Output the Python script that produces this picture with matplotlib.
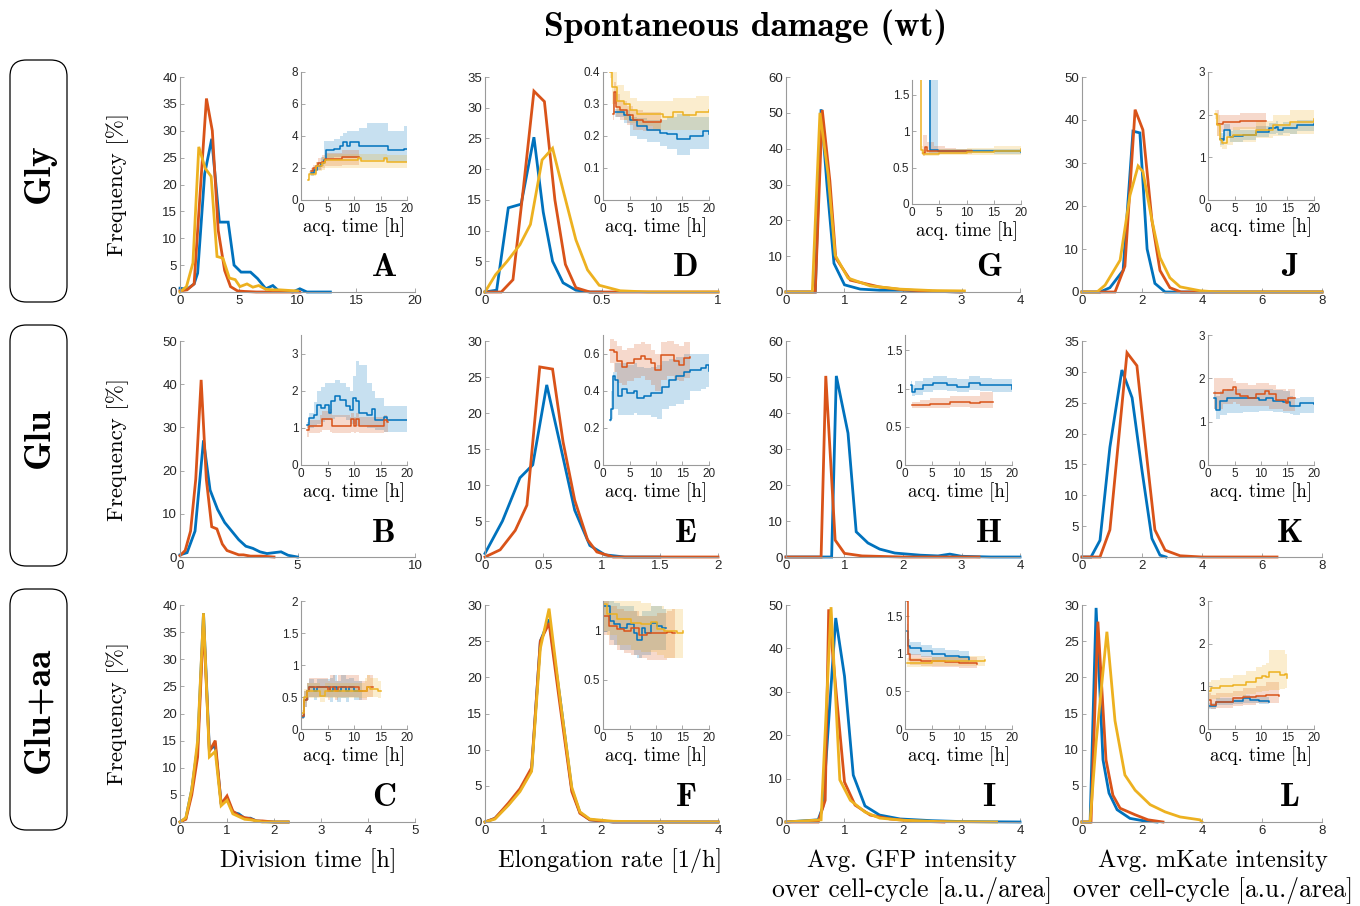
import matplotlib
matplotlib.use('Agg')
import matplotlib.pyplot as plt
from matplotlib.patches import FancyBboxPatch
from matplotlib.ticker import FuncFormatter

# ---------------- data: main histograms ----------------
A_b_x = [0, 0.6, 1.2, 1.5, 2.1, 2.7, 3.35, 4.1, 4.6, 5.2, 6.0, 6.6, 7.3, 7.9, 8.4, 9.0, 9.6, 10.2, 10.8, 12.8]
A_b_y = [0.7, 0.5, 1.5, 3.5, 22, 28.5, 13, 13, 5, 3.7, 3.7, 2.5, 0.6, 1.2, 0.2, 0.2, 0, 0.6, 0, 0]
A_r_x = [0, 0.6, 1.2, 1.7, 2.25, 2.75, 3.25, 3.8, 4.3, 4.9, 5.5, 6.5, 8, 10.2]
A_r_y = [0.2, 0.4, 1.5, 18, 36, 30, 11.5, 4, 1, 0.2, 0.1, 0, 0, 0]
A_y_x = [0, 0.55, 1.1, 1.6, 2.15, 2.65, 3.15, 3.65, 4.2, 4.7, 5.1, 5.7, 6.2, 6.7, 7.3, 7.9, 8.5, 9.2, 10.0]
A_y_y = [0, 1, 5.4, 27, 23, 21.5, 6.6, 6.3, 2.6, 2.3, 1, 1.5, 0.9, 1.2, 0.5, 0.4, 0.4, 0.3, 0.2]

D_b_x = [0, 0.05, 0.1, 0.155, 0.21, 0.25, 0.29, 0.335, 0.39, 0.45, 0.5]
D_b_y = [0, 0.3, 13.7, 14.3, 25.2, 13, 5, 1.5, 0.3, 0, 0]
D_r_x = [0, 0.07, 0.12, 0.165, 0.21, 0.255, 0.3, 0.345, 0.39, 0.45, 0.6, 1.0]
D_r_y = [0, 0, 2, 17, 32.7, 31, 15, 4.5, 0.7, 0, 0, 0]
D_y_x = [0, 0.045, 0.095, 0.15, 0.195, 0.245, 0.29, 0.335, 0.39, 0.44, 0.49, 0.58, 0.7, 1.0]
D_y_y = [0, 2.8, 5, 7.7, 11, 21.5, 23.4, 16.6, 8.5, 3.6, 1.1, 0.2, 0, 0]

G_b_x = [0, 0.5, 0.6, 0.7, 0.82, 1.0, 1.27, 1.6, 2.0, 2.5, 3.0]
G_b_y = [0, 0, 51, 30, 8, 2, 0.8, 0.5, 0.5, 0.2, 0]
G_r_x = [0, 0.5, 0.62, 0.75, 0.85, 1.1, 1.6, 2.0, 2.5, 3.0]
G_r_y = [0, 0, 50.8, 31, 9.5, 3.3, 1.4, 0.6, 0.2, 0]
G_y_x = [0, 0.45, 0.58, 0.72, 0.84, 1.06, 1.44, 1.95, 2.5, 3.05]
G_y_y = [0, 0, 50, 32.7, 10.3, 3.9, 1.7, 0.8, 0.4, 0.3]

J_b_x = [0, 0.6, 0.93, 1.37, 1.7, 1.93, 2.17, 2.43, 2.77, 4, 6, 8]
J_b_y = [0, 0, 1, 5, 37.4, 37, 10, 2, 0, 0, 0, 0]
J_r_x = [0, 1.1, 1.43, 1.77, 2.03, 2.33, 2.6, 2.93, 3.3, 8]
J_r_y = [0, 0, 6, 42.4, 37.7, 16.7, 5, 1, 0, 0]
J_y_x = [0, 0.5, 0.77, 1.27, 1.6, 1.87, 2.03, 2.33, 2.6, 2.93, 3.27, 3.93, 4.5, 8]
J_y_y = [0, 0, 1.6, 7.4, 22.5, 29.3, 28, 16.7, 8, 3.3, 1.2, 0.3, 0, 0]

B_b_x = [0, 0.3, 0.64, 1.0, 1.28, 1.6, 1.9, 2.2, 2.5, 2.8, 3.1, 3.4, 3.7, 4.0, 4.3, 4.6, 5.0]
B_b_y = [0.5, 1, 6, 27, 15.5, 11, 8, 6, 4, 2.5, 2, 1.2, 0.8, 1, 1.2, 0.4, 0]
B_r_x = [0, 0.22, 0.45, 0.67, 0.9, 1.12, 1.35, 1.57, 1.8, 2.0, 2.25, 2.5, 2.7, 3.0, 3.5, 4.0]
B_r_y = [0.3, 1.5, 6, 18, 41, 18, 7, 6.5, 3, 1.5, 1, 0.5, 0.5, 0.2, 0.2, 0]

E_b_x = [0, 0.15, 0.3, 0.41, 0.53, 0.64, 0.77, 0.9, 1.03, 1.2, 1.5]
E_b_y = [0.5, 5, 11, 12.8, 23.9, 16, 6.5, 1.6, 0.3, 0, 0]
E_r_x = [0, 0.13, 0.26, 0.36, 0.47, 0.58, 0.67, 0.77, 0.88, 0.96, 1.1, 2.0]
E_r_y = [0, 1, 3.7, 7.2, 26.4, 26.1, 16, 7.9, 2.4, 0.7, 0, 0]

H_b_x = [0, 0.78, 0.86, 1.06, 1.2, 1.4, 1.6, 1.86, 2.3, 2.6, 2.8, 3.0, 3.5, 4.0]
H_b_y = [0, 0, 50.3, 34.4, 7, 3.9, 2.2, 1.1, 0.5, 0.3, 0.8, 0.2, 0, 0]
H_r_x = [0, 0.6, 0.68, 0.84, 1.0, 1.3, 2.0, 3.3]
H_r_y = [0, 0, 50.3, 4.7, 1, 0.3, 0, 0]

K_b_x = [0, 0.3, 0.6, 0.93, 1.33, 1.67, 2.0, 2.33, 2.6, 2.8]
K_b_y = [0, 0, 2.7, 17.8, 30.3, 25.8, 14, 3, 0.3, 0]
K_r_x = [0, 0.6, 0.93, 1.5, 1.83, 2.17, 2.43, 2.77, 3.27, 4, 6.5]
K_r_y = [0, 0, 4.4, 33.1, 31, 15.7, 4.4, 1.1, 0.2, 0, 0]

C_x = [0, 0.125, 0.25, 0.375, 0.5, 0.625, 0.75, 0.875, 1.0, 1.125, 1.25, 1.375, 1.5, 1.625, 1.75, 2.0, 2.3]
C_b_y = [0, 0.7, 6, 14, 38.5, 13.3, 14.1, 3.5, 4.4, 1.8, 1.5, 0.7, 0.7, 0.2, 0.1, 0, 0]
C_r_y = [0, 0.5, 5, 12, 37, 13, 15, 3.3, 4.8, 2, 1.2, 0.8, 0.6, 0.2, 0.2, 0, 0]
C_y_y = [0, 0.8, 6, 15, 38.5, 12, 13, 3, 4, 1.5, 1, 0.5, 0.4, 0.2, 0, 0, 0]

F_x = [0, 0.17, 0.4, 0.6, 0.8, 0.95, 1.1, 1.29, 1.49, 1.63, 1.8, 2.2, 3.0, 4.0]
F_b_y = [0, 0.5, 2.4, 4.4, 7.2, 25, 28, 17, 4.5, 1.3, 0.3, 0, 0, 0]
F_r_y = [0, 0.5, 2.6, 4.6, 7.5, 25, 27.5, 16, 4.2, 1.2, 0.3, 0, 0, 0]
F_y_y = [0, 0.4, 2.3, 4.2, 7.0, 24, 29.5, 17, 4.8, 1.4, 0.4, 0.1, 0, 0]

I_b_x = [0, 0.55, 0.63, 0.85, 1.0, 1.15, 1.35, 1.6, 1.95, 2.5, 3, 4]
I_b_y = [0, 0.5, 3.5, 47, 33.6, 10.8, 3.7, 1.6, 0.7, 0.3, 0.1, 0]
I_r_x = [0, 0.55, 0.67, 0.73, 0.87, 1.0, 1.18, 1.44, 1.78, 2.2, 2.7]
I_r_y = [0, 0, 5, 49, 28, 9.2, 3.9, 1.6, 0.7, 0.2, 0]
I_y_x = [0, 0.6, 0.77, 0.92, 1.1, 1.35, 1.6, 2.0, 2.6, 3.6]
I_y_y = [0, 0.5, 49.5, 9.7, 5, 2.3, 0.9, 0.4, 0.1, 0]

L_b_x = [0, 0.27, 0.47, 0.7, 0.9, 1.17, 1.6, 2.0, 2.5]
L_b_y = [0, 0, 29.6, 8.6, 4, 1.7, 0.5, 0.2, 0]
L_r_x = [0, 0.3, 0.53, 0.8, 1.03, 1.27, 1.77, 2.2, 2.7]
L_r_y = [0, 0, 27.7, 8.6, 3.7, 1.9, 1, 0.3, 0]
L_y_x = [0, 0.27, 0.47, 0.83, 1.1, 1.43, 1.77, 2.27, 2.77, 3.27, 3.93, 4.0]
L_y_y = [0, 0, 11, 26.3, 14, 6.5, 4.4, 2.4, 1.4, 0.7, 0.3, 0]

# ---------------- data: insets (time, mean, low, high) ----------------
Ai_b_t = [1.8, 2.5, 3.0, 3.7, 4.3, 4.8, 6.2, 7.4, 8.0, 8.7, 9.3, 10.9, 12.5, 16.5, 19.4, 20]
Ai_b_m = [1.7, 1.9, 2.1, 2.3, 2.5, 3.1, 3.2, 3.4, 3.6, 3.4, 3.6, 3.4, 3.4, 3.1, 3.2, 3.2]
Ai_b_lo = [1.5, 1.7, 1.9, 2.1, 2.3, 2.6, 2.7, 2.7, 2.6, 2.6, 2.6, 2.5, 2.5, 2.4, 2.4, 2.4]
Ai_b_hi = [1.9, 2.1, 2.4, 2.7, 3.7, 3.7, 3.8, 4.0, 4.2, 4.3, 4.3, 4.5, 4.8, 4.3, 4.6, 4.5]
Ai_r_t = [1.8, 2.2, 2.8, 3.3, 4.0, 4.6, 7.7, 11]
Ai_r_m = [1.8, 2.0, 2.1, 2.3, 2.4, 2.55, 2.7, 2.7]
Ai_r_lo = [1.6, 1.7, 1.8, 1.9, 2.0, 2.1, 2.2, 2.2]
Ai_r_hi = [2.0, 2.2, 2.4, 2.6, 2.8, 2.95, 3.1, 3.1]
Ai_y_t = [1.25, 1.6, 2.4, 2.9, 4.0, 4.6, 10.8, 11.3, 15.6, 16.2, 20]
Ai_y_m = [1.25, 1.6, 1.65, 2.1, 2.3, 2.5, 2.6, 2.45, 2.6, 2.4, 2.4]
Ai_y_lo = [1.2, 1.5, 1.5, 1.8, 1.9, 2.0, 2.0, 2.0, 2.0, 2.0, 2.0]
Ai_y_hi = [1.4, 1.8, 1.9, 2.4, 2.7, 2.9, 2.9, 2.9, 2.9, 2.8, 2.8]

Di_y_t = [1.4, 1.7, 2.6, 3.9, 5.1, 6.4, 9.5, 11.4, 13.3, 15.1, 17.6, 20]
Di_y_m = [0.4, 0.353, 0.31, 0.3, 0.28, 0.27, 0.27, 0.26, 0.275, 0.265, 0.275, 0.28]
Di_y_lo = [0.38, 0.3, 0.27, 0.25, 0.24, 0.23, 0.22, 0.22, 0.22, 0.22, 0.22, 0.22]
Di_y_hi = [0.42, 0.4, 0.36, 0.34, 0.32, 0.31, 0.31, 0.31, 0.32, 0.32, 0.325, 0.325]
Di_r_t = [1.8, 2.1, 2.5, 3.25, 4.5, 5.75, 7.6, 11]
Di_r_m = [0.27, 0.338, 0.29, 0.28, 0.265, 0.25, 0.245, 0.25]
Di_r_lo = [0.25, 0.3, 0.26, 0.25, 0.235, 0.22, 0.215, 0.22]
Di_r_hi = [0.3, 0.37, 0.33, 0.31, 0.295, 0.28, 0.275, 0.28]
Di_b_t = [2.3, 3.9, 5.1, 6.4, 8.25, 10.75, 12, 13.9, 16.4, 18.9, 20]
Di_b_m = [0.275, 0.265, 0.25, 0.23, 0.22, 0.21, 0.205, 0.19, 0.2, 0.215, 0.205]
Di_b_lo = [0.26, 0.24, 0.2, 0.19, 0.18, 0.17, 0.16, 0.14, 0.16, 0.16, 0.16]
Di_b_hi = [0.285, 0.28, 0.26, 0.255, 0.25, 0.25, 0.26, 0.27, 0.26, 0.26, 0.26]

Gi_y_t = [1.4, 1.6, 2.1, 5, 10, 15, 20]
Gi_y_m = [1.8, 0.74, 0.69, 0.70, 0.71, 0.72, 0.76]
Gi_y_lo = [1.8, 0.68, 0.66, 0.67, 0.67, 0.67, 0.68]
Gi_y_hi = [1.8, 0.8, 0.74, 0.76, 0.77, 0.8, 0.85]
Gi_b_t = [3.2, 3.35, 4.8, 10, 15, 20]
Gi_b_m = [1.8, 0.74, 0.73, 0.72, 0.72, 0.71]
Gi_b_lo = [0.7, 0.7, 0.7, 0.7, 0.69, 0.69]
Gi_b_hi = [1.8, 1.8, 0.76, 0.75, 0.75, 0.74]
Gi_r_t = [2.0, 2.3, 2.7, 4, 6, 8, 11]
Gi_r_m = [0.7, 0.78, 0.73, 0.73, 0.72, 0.72, 0.72]
Gi_r_lo = [0.66, 0.68, 0.68, 0.69, 0.69, 0.69, 0.69]
Gi_r_hi = [0.95, 0.95, 0.85, 0.8, 0.77, 0.76, 0.76]

Ji_y_t = [1.26, 1.7, 2.2, 2.7, 3.5, 4.7, 9.1, 12.3, 15.4, 20]
Ji_y_m = [2.01, 1.75, 1.4, 1.34, 1.48, 1.52, 1.64, 1.75, 1.83, 1.91]
Ji_y_lo = [1.9, 1.5, 1.25, 1.2, 1.3, 1.35, 1.45, 1.5, 1.55, 1.6]
Ji_y_hi = [2.1, 2.0, 1.6, 1.5, 1.65, 1.7, 1.85, 2.0, 2.1, 2.2]
Ji_b_t = [2.2, 2.8, 3.1, 4.0, 4.2, 4.7, 6.6, 9.1, 11.6, 12.9, 13.2, 14.2, 15.4, 16.7, 20]
Ji_b_m = [1.44, 1.4, 1.64, 1.64, 1.48, 1.5, 1.52, 1.6, 1.68, 1.71, 1.64, 1.69, 1.68, 1.75, 1.79]
Ji_b_lo = [1.3, 1.28, 1.5, 1.5, 1.36, 1.37, 1.4, 1.47, 1.55, 1.58, 1.52, 1.56, 1.55, 1.62, 1.66]
Ji_b_hi = [1.58, 1.52, 1.78, 1.78, 1.62, 1.63, 1.65, 1.73, 1.81, 1.84, 1.77, 1.82, 1.81, 1.88, 1.92]
Ji_r_t = [1.7, 2.0, 2.8, 6, 11]
Ji_r_m = [1.79, 1.78, 1.83, 1.85, 1.85]
Ji_r_lo = [1.5, 1.6, 1.65, 1.67, 1.67]
Ji_r_hi = [2.1, 2.0, 2.0, 2.03, 2.03]

Bi_b_t = [1.2, 1.6, 2.4, 3.1, 3.7, 4.6, 5.2, 5.7, 6.5, 7.4, 8.4, 9.3, 9.8, 10.3, 10.9, 12.5, 13.4, 14.0, 15.6, 16.2, 20]
Bi_b_m = [1.08, 1.26, 1.35, 1.62, 1.53, 1.62, 1.40, 1.71, 1.85, 1.76, 1.58, 1.49, 1.80, 1.71, 1.40, 1.35, 1.50, 1.22, 1.30, 1.22, 1.22]
Bi_b_lo = [1.0, 1.0, 1.05, 1.1, 1.15, 1.2, 1.2, 1.25, 1.3, 1.3, 1.2, 1.1, 1.1, 1.05, 1.05, 1.0, 1.0, 0.95, 0.9, 0.9, 0.9]
Bi_b_hi = [1.15, 1.4, 1.7, 2.0, 2.1, 2.2, 2.2, 2.2, 2.3, 2.2, 2.1, 2.0, 2.4, 2.8, 2.7, 2.2, 2.0, 1.8, 1.6, 1.6, 1.6]
Bi_r_t = [1.2, 1.5, 3.6, 4.0, 5.5, 5.9, 9.3, 9.5, 10.0, 10.4, 10.9, 15.0, 15.6, 16.2, 16.5]
Bi_r_m = [0.95, 1.06, 1.06, 1.23, 1.23, 1.06, 1.06, 1.23, 1.06, 1.23, 1.06, 1.06, 1.2, 1.15, 1.15]
Bi_r_lo = [0.75, 0.85, 0.9, 0.95, 0.9, 0.85, 0.85, 0.9, 0.85, 0.9, 0.85, 0.85, 0.9, 0.9, 0.9]
Bi_r_hi = [1.1, 1.2, 1.35, 1.45, 1.5, 1.35, 1.3, 1.4, 1.3, 1.4, 1.3, 1.3, 1.35, 1.3, 1.3]

Ei_r_t = [1.26, 2.0, 2.65, 3.6, 4.5, 5.8, 7.1, 8.0, 9.0, 9.9, 10.9, 12.1, 13.4, 14.3, 15.3, 16.4]
Ei_r_m = [0.62, 0.61, 0.56, 0.53, 0.55, 0.57, 0.585, 0.57, 0.55, 0.51, 0.595, 0.595, 0.56, 0.54, 0.575, 0.58]
Ei_r_lo = [0.55, 0.5, 0.44, 0.43, 0.45, 0.47, 0.48, 0.46, 0.43, 0.40, 0.46, 0.48, 0.46, 0.45, 0.47, 0.47]
Ei_r_hi = [0.68, 0.67, 0.64, 0.62, 0.63, 0.65, 0.66, 0.65, 0.62, 0.60, 0.66, 0.67, 0.65, 0.64, 0.66, 0.66]
Ei_b_t = [1.26, 1.5, 1.9, 2.3, 2.8, 3.6, 4.5, 5.8, 6.4, 7.7, 9.0, 10.2, 11.2, 12.4, 13.7, 15.3, 16.5, 18.4, 19.4, 20]
Ei_b_m = [0.24, 0.3, 0.48, 0.46, 0.37, 0.41, 0.39, 0.40, 0.36, 0.37, 0.39, 0.39, 0.42, 0.46, 0.48, 0.5, 0.51, 0.52, 0.54, 0.505]
Ei_b_lo = [0.23, 0.25, 0.3, 0.3, 0.27, 0.27, 0.27, 0.28, 0.27, 0.27, 0.26, 0.25, 0.3, 0.32, 0.33, 0.35, 0.4, 0.41, 0.42, 0.41]
Ei_b_hi = [0.26, 0.4, 0.5, 0.55, 0.55, 0.55, 0.54, 0.55, 0.53, 0.52, 0.53, 0.54, 0.56, 0.57, 0.58, 0.6, 0.6, 0.6, 0.6, 0.59]

Hi_b_t = [1.2, 1.4, 1.9, 3.4, 5.3, 7.8, 9.7, 11.9, 14, 16.25, 20]
Hi_b_m = [1.04, 0.96, 1.0, 1.04, 1.07, 1.04, 1.02, 1.07, 1.05, 1.04, 1.0]
Hi_b_lo = [0.98, 0.9, 0.92, 0.96, 0.98, 0.97, 0.95, 0.98, 0.97, 0.96, 0.93]
Hi_b_hi = [1.1, 1.05, 1.1, 1.14, 1.16, 1.14, 1.12, 1.16, 1.14, 1.13, 1.08]
Hi_r_t = [1.25, 2.8, 4.7, 6.6, 8.4, 10.3, 12.2, 14, 16.5]
Hi_r_m = [0.78, 0.78, 0.8, 0.8, 0.83, 0.83, 0.81, 0.82, 0.83]
Hi_r_lo = [0.74, 0.74, 0.74, 0.74, 0.76, 0.76, 0.74, 0.74, 0.74]
Hi_r_hi = [0.82, 0.85, 0.88, 0.87, 0.9, 0.9, 0.9, 0.95, 0.95]

Ki_r_t = [1.07, 2.8, 4.7, 5.2, 6.0, 7.5, 9.1, 10.7, 11.6, 12.9, 14.2, 14.8, 15.1, 16.4]
Ki_r_m = [1.67, 1.74, 1.8, 1.65, 1.59, 1.55, 1.63, 1.7, 1.63, 1.51, 1.51, 1.43, 1.55, 1.55]
Ki_r_lo = [1.3, 1.4, 1.45, 1.4, 1.35, 1.35, 1.35, 1.35, 1.3, 1.3, 1.25, 1.25, 1.25, 1.25]
Ki_r_hi = [2.0, 2.0, 1.95, 1.9, 1.9, 1.85, 1.9, 1.9, 1.85, 1.75, 1.75, 1.7, 1.75, 1.75]
Ki_b_t = [1.07, 1.6, 2.2, 3.5, 6.6, 9.7, 11, 12.3, 14.2, 15.4, 16, 17.3, 20]
Ki_b_m = [1.55, 1.28, 1.47, 1.55, 1.55, 1.51, 1.55, 1.47, 1.45, 1.37, 1.36, 1.42, 1.4]
Ki_b_lo = [1.3, 1.05, 1.15, 1.2, 1.22, 1.25, 1.25, 1.22, 1.2, 1.18, 1.15, 1.2, 1.18]
Ki_b_hi = [1.7, 1.6, 1.7, 1.75, 1.75, 1.75, 1.75, 1.72, 1.7, 1.6, 1.55, 1.58, 1.55]

Ci_b_t = [0.2, 0.6, 1.1, 1.5, 2.5, 3.0, 5.5, 6.0, 6.8, 7.5, 8.5, 9.0, 10, 11.5]
Ci_b_m = [0.18, 0.46, 0.59, 0.66, 0.59, 0.66, 0.59, 0.66, 0.59, 0.66, 0.59, 0.66, 0.59, 0.59]
Ci_b_lo = [0.15, 0.35, 0.45, 0.5, 0.45, 0.5, 0.42, 0.5, 0.42, 0.48, 0.42, 0.5, 0.45, 0.45]
Ci_b_hi = [0.22, 0.6, 0.72, 0.78, 0.72, 0.78, 0.8, 0.85, 0.75, 0.85, 0.78, 0.8, 0.75, 0.75]
Ci_r_t = [0.2, 0.6, 1.1, 1.6, 3.0, 5.0, 5.5, 6.5, 7.0, 10.5, 11.0, 12.5, 13.5]
Ci_r_m = [0.2, 0.46, 0.59, 0.66, 0.66, 0.59, 0.66, 0.59, 0.66, 0.66, 0.59, 0.66, 0.66]
Ci_r_lo = [0.15, 0.35, 0.45, 0.5, 0.5, 0.45, 0.5, 0.45, 0.5, 0.5, 0.45, 0.5, 0.5]
Ci_r_hi = [0.25, 0.6, 0.72, 0.8, 0.8, 0.75, 0.85, 0.75, 0.85, 0.85, 0.75, 0.85, 0.85]
Ci_y_t = [0.2, 0.6, 1.1, 3.5, 4.6, 5.5, 12.0, 12.5, 13.0, 14.5, 15]
Ci_y_m = [0.25, 0.5, 0.59, 0.52, 0.59, 0.59, 0.59, 0.66, 0.62, 0.59, 0.59]
Ci_y_lo = [0.2, 0.4, 0.48, 0.42, 0.48, 0.48, 0.48, 0.5, 0.5, 0.48, 0.48]
Ci_y_hi = [0.3, 0.62, 0.72, 0.65, 0.72, 0.72, 0.8, 0.85, 0.8, 0.75, 0.75]

Fi_y_t = [0.25, 0.75, 2.65, 5.2, 7.1, 9.0, 10.2, 11.5, 14, 15.1]
Fi_y_m = [1.27, 1.17, 1.12, 1.08, 1.07, 1.09, 1.02, 1.0, 0.98, 1.0]
Fi_y_lo = [1.0, 0.95, 0.85, 0.8, 0.78, 0.78, 0.75, 0.72, 0.72, 0.75]
Fi_y_hi = [1.35, 1.3, 1.3, 1.3, 1.28, 1.25, 1.25, 1.22, 1.22, 1.22]
Fi_r_t = [0.25, 1.07, 2.6, 3.9, 5.2, 6.75, 8.3, 10.2, 12.1, 13.1, 13.5]
Fi_r_m = [1.15, 1.05, 1.02, 1.0, 1.03, 0.95, 0.98, 0.98, 0.99, 0.97, 0.97]
Fi_r_lo = [0.95, 0.85, 0.8, 0.77, 0.75, 0.72, 0.7, 0.7, 0.72, 0.72, 0.72]
Fi_r_hi = [1.3, 1.25, 1.22, 1.2, 1.2, 1.15, 1.15, 1.18, 1.2, 1.22, 1.22]
Fi_b_t = [0.25, 1.4, 2.0, 3.3, 4.5, 5.8, 6.4, 7.4, 8.0, 9.0, 10.2, 11.2, 11.8]
Fi_b_m = [1.25, 1.1, 1.07, 1.03, 1.07, 0.97, 0.9, 1.03, 0.98, 1.08, 1.05, 1.03, 1.03]
Fi_b_lo = [1.0, 0.9, 0.85, 0.8, 0.8, 0.75, 0.72, 0.75, 0.75, 0.8, 0.8, 0.8, 0.8]
Fi_b_hi = [1.35, 1.3, 1.28, 1.25, 1.25, 1.2, 1.15, 1.2, 1.2, 1.25, 1.25, 1.22, 1.22]

Ii_b_t = [0.3, 0.6, 1.0, 3.0, 5.0, 7.5, 10, 12]
Ii_b_m = [1.3, 1.1, 1.07, 1.03, 1.0, 0.97, 0.95, 0.92]
Ii_b_lo = [1.2, 1.0, 0.98, 0.95, 0.92, 0.9, 0.88, 0.85]
Ii_b_hi = [1.4, 1.2, 1.15, 1.12, 1.08, 1.05, 1.03, 1.0]
Ii_r_t = [0.3, 0.5, 1.0, 3, 5, 7.5, 10, 13.5]
Ii_r_m = [1.7, 1.0, 0.92, 0.9, 0.9, 0.89, 0.88, 0.86]
Ii_r_lo = [1.5, 0.9, 0.85, 0.84, 0.83, 0.82, 0.81, 0.8]
Ii_r_hi = [1.75, 1.1, 1.0, 0.97, 0.96, 0.95, 0.95, 0.93]
Ii_y_t = [0.3, 1.0, 5, 10, 12.5, 15]
Ii_y_m = [0.88, 0.88, 0.9, 0.9, 0.9, 0.92]
Ii_y_lo = [0.82, 0.83, 0.84, 0.84, 0.84, 0.86]
Ii_y_hi = [0.94, 0.94, 0.96, 0.97, 0.97, 0.98]

Li_y_t = [0.2, 0.6, 2.2, 4.7, 7.2, 9.1, 10.1, 11.0, 11.6, 13.5, 14.5, 15]
Li_y_m = [0.88, 0.96, 1.0, 1.03, 1.11, 1.19, 1.24, 1.23, 1.34, 1.27, 1.3, 1.19]
Li_y_lo = [0.65, 0.7, 0.75, 0.78, 0.82, 0.86, 0.88, 0.9, 0.92, 0.93, 0.95, 0.95]
Li_y_hi = [1.1, 1.15, 1.2, 1.27, 1.35, 1.45, 1.5, 1.55, 1.85, 1.85, 1.75, 1.7]
Li_r_t = [0.2, 0.6, 1.6, 4.7, 6.6, 9.1, 11.0, 13.4]
Li_r_m = [0.68, 0.57, 0.64, 0.72, 0.75, 0.78, 0.8, 0.78]
Li_r_lo = [0.5, 0.48, 0.5, 0.55, 0.57, 0.6, 0.6, 0.6]
Li_r_hi = [0.85, 0.8, 0.85, 0.9, 0.95, 1.0, 1.1, 1.05]
Li_b_t = [0.2, 1.6, 4.7, 6.6, 7.9, 9.7, 11.6]
Li_b_m = [0.53, 0.64, 0.66, 0.72, 0.68, 0.66, 0.64]
Li_b_lo = [0.48, 0.56, 0.58, 0.62, 0.6, 0.58, 0.56]
Li_b_hi = [0.6, 0.72, 0.74, 0.8, 0.77, 0.75, 0.72]

row_labels = ['Gly', 'Glu', 'Glu+aa']
panel_letters = ['A', 'D', 'G', 'J', 'B', 'E', 'H', 'K', 'C', 'F', 'I', 'L']
col_xlabels = [['Division time [h]'], ['Elongation rate [1/h]'],
               ['Avg. GFP intensity', 'over cell-cycle [a.u./area]'],
               ['Avg. mKate intensity', 'over cell-cycle [a.u./area]']]
title_text = 'Spontaneous damage (wt)'

# ---------------- style / layout ----------------
BLUE, RED, YEL = '#0072BD', '#D95319', '#EDB120'
SPINE = '#9a9a9a'
TICKC = '#262626'
SERIF = ['cmr10', 'DejaVu Serif']
BOLD = ['cmb10', 'DejaVu Serif']
SANS = 'Liberation Sans'
plt.rcParams['axes.unicode_minus'] = False

W, H = 1360, 906
fig = plt.figure(figsize=(W / 100, H / 100), dpi=100)


def add_ax(x0, x1, ytop, ybot):
    return fig.add_axes([x0 / W, 1 - ybot / H, (x1 - x0) / W, (ybot - ytop) / H])


fmt = FuncFormatter(lambda v, p: ('%g' % round(v, 6)))


def style(ax, xlim, ylim, xt, yt, fs):
    for s in ('top', 'right'):
        ax.spines[s].set_visible(False)
    for s in ('left', 'bottom'):
        ax.spines[s].set_color(SPINE)
        ax.spines[s].set_linewidth(0.8)
    ax.set_xlim(xlim)
    ax.set_ylim(ylim)
    ax.set_xticks(xt)
    ax.set_yticks(yt)
    ax.xaxis.set_major_formatter(fmt)
    ax.yaxis.set_major_formatter(fmt)
    ax.tick_params(direction='in', length=3, width=0.6, color=SPINE,
                   labelsize=fs, labelcolor=TICKC, pad=2)
    for lab in ax.get_xticklabels() + ax.get_yticklabels():
        lab.set_fontfamily(SANS)
    ax.patch.set_alpha(0)


col_x = [(180, 415), (485, 718), (786, 1020), (1082, 1322)]
row_y = [(77, 292), (341, 557), (605, 822)]

main_series = [
    [(A_b_x, A_b_y, BLUE), (A_r_x, A_r_y, RED), (A_y_x, A_y_y, YEL)],
    [(D_b_x, D_b_y, BLUE), (D_r_x, D_r_y, RED), (D_y_x, D_y_y, YEL)],
    [(G_b_x, G_b_y, BLUE), (G_r_x, G_r_y, RED), (G_y_x, G_y_y, YEL)],
    [(J_b_x, J_b_y, BLUE), (J_r_x, J_r_y, RED), (J_y_x, J_y_y, YEL)],
    [(B_b_x, B_b_y, BLUE), (B_r_x, B_r_y, RED)],
    [(E_b_x, E_b_y, BLUE), (E_r_x, E_r_y, RED)],
    [(H_b_x, H_b_y, BLUE), (H_r_x, H_r_y, RED)],
    [(K_b_x, K_b_y, BLUE), (K_r_x, K_r_y, RED)],
    [(C_x, C_b_y, BLUE), (C_x, C_r_y, RED), (C_x, C_y_y, YEL)],
    [(F_x, F_b_y, BLUE), (F_x, F_r_y, RED), (F_x, F_y_y, YEL)],
    [(I_b_x, I_b_y, BLUE), (I_r_x, I_r_y, RED), (I_y_x, I_y_y, YEL)],
    [(L_b_x, L_b_y, BLUE), (L_r_x, L_r_y, RED), (L_y_x, L_y_y, YEL)],
]
main_lims = [
    ((0, 20), (0, 40), [0, 5, 10, 15, 20], range(0, 41, 5)),
    ((0, 1), (0, 35), [0, 0.5, 1], range(0, 36, 5)),
    ((0, 4), (0, 60), [0, 1, 2, 3, 4], range(0, 61, 10)),
    ((0, 8), (0, 50), [0, 2, 4, 6, 8], range(0, 51, 10)),
    ((0, 10), (0, 50), [0, 5, 10], range(0, 51, 10)),
    ((0, 2), (0, 30), [0, 0.5, 1, 1.5, 2], range(0, 31, 5)),
    ((0, 4), (0, 60), [0, 1, 2, 3, 4], range(0, 61, 10)),
    ((0, 8), (0, 35), [0, 2, 4, 6, 8], range(0, 36, 5)),
    ((0, 5), (0, 40), [0, 1, 2, 3, 4, 5], range(0, 41, 5)),
    ((0, 4), (0, 30), [0, 1, 2, 3, 4], range(0, 31, 5)),
    ((0, 4), (0, 50), [0, 1, 2, 3, 4], range(0, 51, 10)),
    ((0, 8), (0, 30), [0, 2, 4, 6, 8], range(0, 31, 5)),
]

inset_series = [
    [(Ai_b_t, Ai_b_m, Ai_b_lo, Ai_b_hi, BLUE), (Ai_r_t, Ai_r_m, Ai_r_lo, Ai_r_hi, RED), (Ai_y_t, Ai_y_m, Ai_y_lo, Ai_y_hi, YEL)],
    [(Di_b_t, Di_b_m, Di_b_lo, Di_b_hi, BLUE), (Di_r_t, Di_r_m, Di_r_lo, Di_r_hi, RED), (Di_y_t, Di_y_m, Di_y_lo, Di_y_hi, YEL)],
    [(Gi_b_t, Gi_b_m, Gi_b_lo, Gi_b_hi, BLUE), (Gi_r_t, Gi_r_m, Gi_r_lo, Gi_r_hi, RED), (Gi_y_t, Gi_y_m, Gi_y_lo, Gi_y_hi, YEL)],
    [(Ji_b_t, Ji_b_m, Ji_b_lo, Ji_b_hi, BLUE), (Ji_r_t, Ji_r_m, Ji_r_lo, Ji_r_hi, RED), (Ji_y_t, Ji_y_m, Ji_y_lo, Ji_y_hi, YEL)],
    [(Bi_b_t, Bi_b_m, Bi_b_lo, Bi_b_hi, BLUE), (Bi_r_t, Bi_r_m, Bi_r_lo, Bi_r_hi, RED)],
    [(Ei_b_t, Ei_b_m, Ei_b_lo, Ei_b_hi, BLUE), (Ei_r_t, Ei_r_m, Ei_r_lo, Ei_r_hi, RED)],
    [(Hi_b_t, Hi_b_m, Hi_b_lo, Hi_b_hi, BLUE), (Hi_r_t, Hi_r_m, Hi_r_lo, Hi_r_hi, RED)],
    [(Ki_b_t, Ki_b_m, Ki_b_lo, Ki_b_hi, BLUE), (Ki_r_t, Ki_r_m, Ki_r_lo, Ki_r_hi, RED)],
    [(Ci_b_t, Ci_b_m, Ci_b_lo, Ci_b_hi, BLUE), (Ci_r_t, Ci_r_m, Ci_r_lo, Ci_r_hi, RED), (Ci_y_t, Ci_y_m, Ci_y_lo, Ci_y_hi, YEL)],
    [(Fi_b_t, Fi_b_m, Fi_b_lo, Fi_b_hi, BLUE), (Fi_r_t, Fi_r_m, Fi_r_lo, Fi_r_hi, RED), (Fi_y_t, Fi_y_m, Fi_y_lo, Fi_y_hi, YEL)],
    [(Ii_b_t, Ii_b_m, Ii_b_lo, Ii_b_hi, BLUE), (Ii_r_t, Ii_r_m, Ii_r_lo, Ii_r_hi, RED), (Ii_y_t, Ii_y_m, Ii_y_lo, Ii_y_hi, YEL)],
    [(Li_b_t, Li_b_m, Li_b_lo, Li_b_hi, BLUE), (Li_r_t, Li_r_m, Li_r_lo, Li_r_hi, RED), (Li_y_t, Li_y_m, Li_y_lo, Li_y_hi, YEL)],
]
inset_ylims = [
    ((0, 8), [0, 2, 4, 6, 8]),
    ((0, 0.4), [0, 0.1, 0.2, 0.3, 0.4]),
    ((0, 1.7), [0, 0.5, 1, 1.5]),
    ((0, 3), [0, 1, 2, 3]),
    ((0, 3.5), [0, 1, 2, 3]),
    ((0, 0.7), [0, 0.2, 0.4, 0.6]),
    ((0, 1.7), [0, 0.5, 1, 1.5]),
    ((0, 3), [0, 1, 2, 3]),
    ((0, 2), [0, 0.5, 1, 1.5, 2]),
    ((0, 1.3), [0, 0.5, 1]),
    ((0, 1.7), [0, 0.5, 1, 1.5]),
    ((0, 3), [0, 1, 2, 3]),
]
inset_x = [(301, 407), (603, 709), (905, 1012), (1208, 1314)]
inset_y = [(72, 200), (335, 465), (601, 729)]
letter_x = [384, 686, 989, 1290]
letter_y = [268, 533, 797]

for i in range(12):
    r, c = divmod(i, 4)
    x0, x1 = col_x[c]
    yt, yb = row_y[r]
    ax = add_ax(x0, x1, yt, yb)
    for xs, ys, col in main_series[i]:
        ax.plot(xs, ys, color=col, lw=2.0, solid_joinstyle='miter', clip_on=False)
    xl, yl, xt, ytk = main_lims[i]
    style(ax, xl, yl, xt, list(ytk), 9.5)
    fig.text(letter_x[c] / W, 1 - letter_y[r] / H, panel_letters[i],
             fontfamily=BOLD, fontsize=24, ha='center', va='center')

    # inset
    ix0, ix1 = inset_x[c]
    iyt, iyb = inset_y[r]
    if r == 0 and c == 2:
        ix0, ix1, iyt, iyb = 912, 1021, 80, 204
    ia = add_ax(ix0, ix1, iyt, iyb)
    for t, m, lo, hi, col in inset_series[i]:
        ia.fill_between(t, lo, hi, step='post', color=col, alpha=0.22, lw=0)
    for t, m, lo, hi, col in inset_series[i]:
        ia.plot(t, m, drawstyle='steps-post', color=col, lw=1.1)
    iyl, iytk = inset_ylims[i]
    style(ia, (0, 20), iyl, [0, 5, 10, 15, 20], iytk, 8.5)
    ia.set_xlabel('acq. time [h]', fontfamily=SERIF, fontsize=13.5, labelpad=2)

# y labels
for r in range(3):
    yt, yb = row_y[r]
    fig.text(118 / W, 1 - (yt + yb) / 2 / H, 'Frequency [%]', fontfamily=SERIF,
             fontsize=16.5, rotation=90, ha='center', va='center')

# x labels
xl_centers = [308, 610, 912, 1213]
for c in range(4):
    for k, line in enumerate(col_xlabels[c]):
        fig.text(xl_centers[c] / W, 1 - (861 + 30 * k) / H, line, fontfamily=SERIF,
                 fontsize=17.5 if k == 0 else 18.5, ha='center', va='center')

# row label boxes
box_y = [(60, 302), (325, 566), (589, 830)]
label_cy = [173, 438, 710]
for r in range(3):
    yt, yb = box_y[r]
    bx = FancyBboxPatch((10 / W, 1 - yb / H), 57 / W, (yb - yt) / H,
                        boxstyle='round,pad=0,rounding_size=0.012',
                        transform=fig.transFigure, fc='white', ec='black', lw=0.9,
                        mutation_aspect=W / H)
    fig.patches.append(bx)
    fig.text(39 / W, 1 - label_cy[r] / H, row_labels[r], fontfamily=BOLD,
             fontsize=27, rotation=90, ha='center', va='center')

fig.text(746 / W, 1 - 27 / H, title_text, fontfamily=BOLD, fontsize=25.5,
         ha='center', va='center')

fig.savefig('out.png', dpi=100)
